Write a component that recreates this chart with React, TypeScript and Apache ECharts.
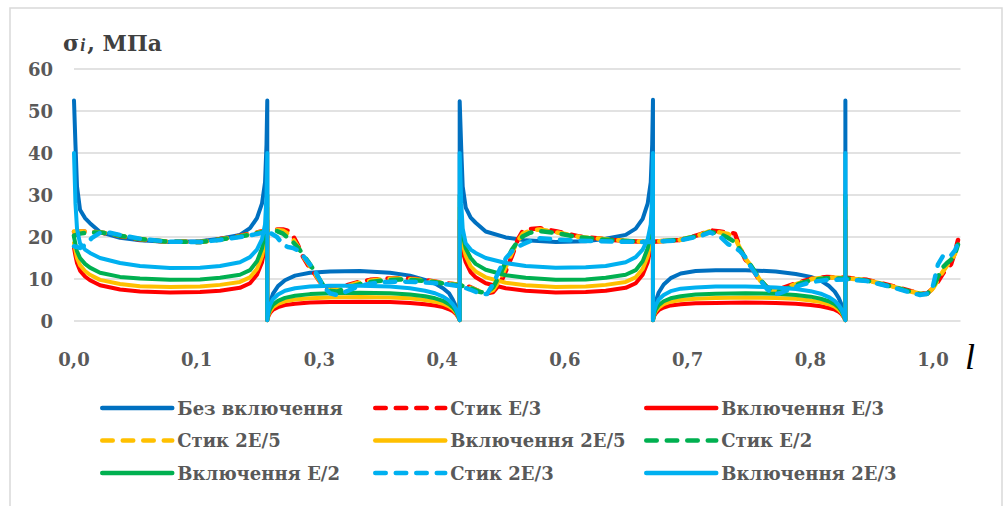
import React, { useEffect, useRef } from "react";
import * as echarts from "echarts";

// x-axis tick labels (one every 1/7 of the axis)
const TICK_LABELS = ["0,0", "0,1", "0,3", "0,4", "0,6", "0,7", "0,8", "1,0"];
const TICK_STEP = 1 / 7;
const X_MAX = 1.032;
const Y_MIN = 0;
const Y_MAX = 60;
const Y_STEP = 10;

// positions (l) of the samples of the "inclusion" curves
const SOLID_L = [
  0, 0.0017, 0.0035, 0.007, 0.0128, 0.0186, 0.0303, 0.0536, 0.0768, 0.1118, 0.1467, 0.17, 0.1932, 0.2049, 0.213, 0.2189, 0.2224, 0.2241, 0.225,
  0.225, 0.2264, 0.2282, 0.2317, 0.2375, 0.2456, 0.2573, 0.2747, 0.298, 0.3329, 0.3679, 0.3912, 0.4086, 0.4203, 0.4296, 0.4366, 0.4412, 0.4447, 0.447, 0.449,
  0.449, 0.4508, 0.4525, 0.456, 0.4618, 0.4676, 0.4793, 0.5026, 0.5258, 0.5608, 0.5957, 0.619, 0.6422, 0.6539, 0.662, 0.6679, 0.6714, 0.6731, 0.674,
  0.674, 0.6754, 0.6772, 0.6807, 0.6865, 0.6946, 0.7063, 0.7237, 0.747, 0.7819, 0.8169, 0.8402, 0.8576, 0.8693, 0.8786, 0.8856, 0.8902, 0.8937, 0.896, 0.898,
  0.898,
];

const BEZ_VKL = [
  52.5, 42, 32, 26.5, 24.5, 23.3, 21.2, 19.8, 19.2, 18.8, 19.0, 19.6, 20.5, 22.1, 24.5, 28, 33, 42, 52.5,
  0.3, 3.0, 4.5, 6.5, 8.3, 9.7, 10.8, 11.5, 11.8, 11.9, 11.5, 10.8, 9.8, 8.9, 7.8, 6.6, 5.0, 3.5, 2.0, 0.3,
  52.3, 41, 32, 27, 24.6, 23.4, 21.3, 19.9, 19.2, 18.8, 19.0, 19.6, 20.5, 22.0, 24.3, 28, 33, 42, 52.7,
  0.3, 3.0, 4.6, 6.8, 8.7, 10.2, 11.3, 11.9, 12.1, 12.1, 11.8, 11.2, 10.5, 9.6, 8.4, 7.0, 5.5, 3.8, 2.2, 0.3,
  52.5,
];
const VKL_E3 = [
  17.4, 15.5, 13.8, 12, 10.6, 9.7, 8.5, 7.5, 7, 6.8, 6.9, 7.2, 7.9, 9, 11, 14, 17.5, 21, 24,
  0.2, 1.2, 1.9, 2.7, 3.3, 3.8, 4.1, 4.4, 4.5, 4.6, 4.5, 4.3, 4.0, 3.7, 3.3, 2.8, 2.3, 1.7, 1.0, 0.2,
  24, 19.5, 16.5, 14, 11.6, 10.4, 9, 7.8, 7.2, 6.8, 6.9, 7.2, 7.9, 9, 11, 14, 17.5, 21, 24,
  0.2, 1.2, 1.8, 2.6, 3.2, 3.7, 4.0, 4.2, 4.3, 4.4, 4.3, 4.1, 3.8, 3.5, 3.1, 2.7, 2.2, 1.6, 0.9, 0.2,
  24,
];
const VKL_2E5 = [
  18.6, 16.8, 15, 13.3, 11.9, 11, 9.8, 8.8, 8.3, 8.1, 8.2, 8.6, 9.3, 10.4, 12.4, 15.4, 19, 23, 27,
  0.2, 1.5, 2.3, 3.3, 4.1, 4.7, 5.1, 5.4, 5.6, 5.7, 5.6, 5.4, 5.0, 4.6, 4.1, 3.5, 2.8, 2.0, 1.2, 0.2,
  27, 22, 18.5, 15.5, 13, 11.8, 10.4, 9.1, 8.5, 8.1, 8.2, 8.6, 9.3, 10.4, 12.4, 15.4, 19, 23, 27,
  0.2, 1.5, 2.3, 3.2, 4.0, 4.6, 5.0, 5.3, 5.5, 5.6, 5.5, 5.3, 4.9, 4.5, 4.0, 3.4, 2.7, 1.9, 1.1, 0.2,
  27,
];
const VKL_E2 = [
  20, 18.3, 16.6, 15, 13.6, 12.7, 11.5, 10.5, 10.1, 9.8, 9.9, 10.3, 11, 12.1, 14.2, 17.3, 21, 25, 30,
  0.2, 1.8, 2.8, 3.9, 4.8, 5.5, 6.0, 6.4, 6.6, 6.7, 6.6, 6.3, 5.9, 5.4, 4.8, 4.0, 3.2, 2.3, 1.3, 0.2,
  30, 24, 20.5, 17.3, 15, 13.6, 12.2, 10.9, 10.3, 9.8, 9.9, 10.3, 11, 12.1, 14.2, 17.3, 21, 25, 30,
  0.2, 1.7, 2.7, 3.8, 4.7, 5.4, 5.9, 6.3, 6.5, 6.6, 6.5, 6.2, 5.8, 5.3, 4.7, 4.0, 3.2, 2.3, 1.3, 0.2,
  30,
];
const VKL_2E3 = [
  40, 28, 22, 18.5, 17, 16.2, 15, 13.8, 13.1, 12.6, 12.7, 13.1, 14, 15.2, 17, 19.5, 23, 30, 40,
  0.2, 2.5, 3.8, 5.2, 6.3, 7.2, 7.8, 8.2, 8.4, 8.4, 8.2, 7.8, 7.2, 6.6, 5.8, 4.9, 3.9, 2.8, 1.6, 0.2,
  40, 28, 22, 18.5, 17, 16.2, 15, 13.8, 13.1, 12.7, 12.8, 13.1, 14, 15.2, 17, 19.5, 23, 30, 40,
  0.2, 2.4, 3.7, 5.1, 6.2, 7.1, 7.7, 8.0, 8.2, 8.2, 8.0, 7.6, 7.1, 6.5, 5.7, 4.8, 3.8, 2.7, 1.5, 0.2,
  40,
];

// positions (l) of the samples of the "joint" curves
const DASH_L = [
  0, 0.007, 0.014, 0.021, 0.0303, 0.0419, 0.0536, 0.0768, 0.1083, 0.1467,
  0.17, 0.1932, 0.213, 0.2258, 0.2363, 0.2433, 0.2491, 0.2549, 0.2608, 0.2666,
  0.2724, 0.2782, 0.2841, 0.2899, 0.298, 0.3062, 0.3155, 0.3295, 0.3446, 0.3621,
  0.3795, 0.397, 0.4144, 0.4319, 0.4494, 0.461, 0.4726, 0.4808, 0.4878, 0.4959,
  0.5029, 0.5099, 0.5169, 0.5227, 0.5308, 0.5425, 0.5623, 0.5891, 0.6275, 0.6671,
  0.7055, 0.7288, 0.7404, 0.7521, 0.7614, 0.7695, 0.7753, 0.7811, 0.787, 0.7928,
  0.7986, 0.8068, 0.8137, 0.8219, 0.8335, 0.8452, 0.8591, 0.8766, 0.8999, 0.9232,
  0.9534, 0.9767, 0.9849, 0.993, 1.0, 1.0058, 1.0116, 1.0163, 1.021, 1.0256, 1.0291,
];
const STYK_E3 = [
  21.2, 21.3, 21.3, 21.2, 21.1, 20.7, 20.2, 19.4, 18.9, 18.8,
  19.5, 20.3, 21.1, 21.7, 21.8, 21.8, 21.5, 20.3, 18.0, 15.3,
  13.3, 11.8, 10.0, 8.2, 7.6, 7.8, 8.4, 9.2, 9.8, 10.1,
  10.2, 10.0, 9.6, 9.0, 8.6, 8.1, 7.0, 6.6, 6.9, 8.8,
  12.0, 15.5, 19.5, 21.5, 21.9, 22.1, 21.3, 20.1, 19.3, 18.8,
  19.3, 20.6, 21.6, 21.3, 21.1, 20.8, 17.5, 14.8, 13.2, 11.4,
  9.5, 8.1, 7.4, 7.6, 8.5, 9.3, 10.1, 10.5, 10.3, 9.8,
  8.3, 7.0, 6.6, 6.5, 7.8, 9.4, 11.3, 12.5, 13.5, 16.4, 19.3,
];
const STYK_2E5 = [
  21.3, 21.3, 21.3, 21.2, 21.1, 20.8, 20.3, 19.5, 18.9, 18.8,
  19.4, 20.2, 21.0, 21.5, 21.7, 21.5, 20.8, 19.5, 17.6, 15.5,
  13.8, 12.0, 10.2, 8.4, 7.4, 7.5, 8.1, 9.0, 9.6, 10.0,
  10.1, 9.9, 9.5, 9.0, 8.6, 8.0, 7.0, 6.7, 7.4, 9.8,
  13.0, 16.3, 19.2, 20.8, 21.5, 21.8, 21.1, 20.0, 19.3, 18.8,
  19.3, 20.5, 21.4, 21.1, 20.7, 19.8, 17.3, 15.0, 13.4, 11.6,
  9.7, 8.1, 7.2, 7.4, 8.3, 9.1, 10.0, 10.4, 10.2, 9.7,
  8.2, 6.9, 6.5, 6.4, 7.8, 9.8, 11.8, 13.2, 14.2, 16.0, 18.8,
];
const STYK_E2 = [
  20.3, 20.8, 21.0, 21.1, 21.1, 20.8, 20.3, 19.5, 18.9, 18.8,
  19.4, 20.1, 20.9, 21.4, 21.4, 20.8, 19.8, 18.8, 17.5, 15.8,
  14.2, 12.4, 10.5, 8.6, 7.2, 7.0, 7.7, 8.6, 9.3, 9.7,
  9.9, 9.7, 9.4, 8.9, 8.5, 7.9, 6.9, 6.8, 8.0, 11.0,
  14.2, 17.0, 19.0, 20.2, 21.0, 21.4, 20.9, 19.9, 19.2, 18.8,
  19.3, 20.4, 21.2, 20.7, 19.8, 18.8, 17.0, 15.2, 13.5, 11.7,
  9.9, 8.0, 7.0, 7.1, 8.0, 8.9, 9.8, 10.2, 10.1, 9.6,
  8.1, 6.8, 6.4, 6.4, 8.0, 10.5, 12.8, 13.8, 14.6, 16.0, 18.2,
];
const STYK_2E3 = [
  17.8, 17.4, 18.2, 19.8, 21.0, 21.0, 20.5, 19.6, 18.9, 18.8,
  19.3, 20.0, 20.7, 21.3, 20.0, 18.2, 17.6, 17.4, 16.8, 15.6,
  14.0, 12.6, 10.6, 8.3, 6.6, 6.2, 6.9, 8.1, 8.9, 9.3,
  9.4, 9.3, 9.1, 8.8, 8.3, 7.5, 6.5, 6.4, 8.8, 12.4,
  15.0, 16.6, 17.7, 18.3, 19.0, 19.7, 19.4, 19.1, 18.9, 18.8,
  19.2, 20.2, 21.1, 20.1, 18.3, 17.5, 16.6, 15.3, 13.2, 11.4,
  9.8, 7.6, 6.3, 6.6, 7.6, 8.5, 9.3, 9.8, 9.9, 9.5,
  8.0, 6.6, 6.2, 6.5, 8.4, 13.5, 15.5, 15.2, 15.6, 16.8, 18.5,
];

const SERIES_DEF = [
  { name: "Без включення", xs: SOLID_L, ys: BEZ_VKL, color: "#0070C0", dashed: false },
  { name: "Стик E/3", xs: DASH_L, ys: STYK_E3, color: "#FF0000", dashed: true },
  { name: "Включення E/3", xs: SOLID_L, ys: VKL_E3, color: "#FF0000", dashed: false },
  { name: "Стик 2E/5", xs: DASH_L, ys: STYK_2E5, color: "#FFC000", dashed: true },
  { name: "Включення 2E/5", xs: SOLID_L, ys: VKL_2E5, color: "#FFC000", dashed: false },
  { name: "Стик E/2", xs: DASH_L, ys: STYK_E2, color: "#00B050", dashed: true },
  { name: "Включення E/2", xs: SOLID_L, ys: VKL_E2, color: "#00B050", dashed: false },
  { name: "Стик 2E/3", xs: DASH_L, ys: STYK_2E3, color: "#00B0F0", dashed: true },
  { name: "Включення 2E/3", xs: SOLID_L, ys: VKL_2E3, color: "#00B0F0", dashed: false },
];

const LEGEND_COLUMNS = [
  ["Без включення", "Стик 2E/5", "Включення E/2"],
  ["Стик E/3", "Включення 2E/5", "Стик 2E/3"],
  ["Включення E/3", "Стик E/2", "Включення 2E/3"],
];
const LEGEND_LEFTS = [100, 373, 644];

const FONT = "DejaVu Serif";
const LABEL_COLOR = "#595959";
const DASH = [10.5, 10];

export default function App() {
  const ref = useRef<HTMLDivElement>(null);

  useEffect(() => {
    if (!ref.current) return;
    const chart = echarts.init(ref.current, undefined, { renderer: "svg" });

    const series = SERIES_DEF.map((s) => ({
      name: s.name,
      type: "line",
      data: s.xs.map((x, i) => [x, s.ys[i]]),
      symbol: "none",
      showSymbol: false,
      color: s.color,
      lineStyle: {
        color: s.color,
        width: s.dashed ? 4.5 : 4,
        type: s.dashed ? DASH : "solid",
        cap: "round",
        join: "round",
      },
      emphasis: { disabled: true },
    }));

    const legends = LEGEND_COLUMNS.map((col, i) => ({
      data: col,
      orient: "vertical",
      left: LEGEND_LEFTS[i],
      top: 398,
      padding: 0,
      itemWidth: 70,
      itemHeight: 14,
      itemGap: 12.5,
      selectedMode: false,
      itemStyle: { opacity: 0 },
      lineStyle: { width: 4.5, cap: "round" },
      textStyle: {
        fontFamily: FONT,
        fontWeight: "bold",
        fontSize: 18,
        color: LABEL_COLOR,
        lineHeight: 20,
      },
    }));

    chart.setOption({
      animation: false,
      backgroundColor: "#ffffff",
      grid: { left: 74, right: 1006 - (74 + 859 * X_MAX), top: 69, bottom: 185, containLabel: false },
      xAxis: {
        type: "value",
        min: 0,
        max: X_MAX,
        interval: TICK_STEP,
        axisLine: { show: false },
        axisTick: { show: false },
        splitLine: { show: false },
        axisLabel: {
          margin: 29,
          fontFamily: FONT,
          fontWeight: "bold",
          fontSize: 18,
          color: LABEL_COLOR,
          formatter: (v: number) => {
            const k = Math.round(v / TICK_STEP);
            if (Math.abs(v / TICK_STEP - k) > 1e-3) return "";
            return TICK_LABELS[k] ?? "";
          },
        },
      },
      yAxis: {
        type: "value",
        min: Y_MIN,
        max: Y_MAX,
        interval: Y_STEP,
        axisLine: { show: false },
        axisTick: { show: false },
        splitLine: { lineStyle: { color: "#D9D9D9", width: 1.5 } },
        axisLabel: {
          margin: 21,
          fontFamily: FONT,
          fontWeight: "bold",
          fontSize: 18,
          color: LABEL_COLOR,
        },
      },
      legend: legends,
      graphic: [
        {
          type: "rect",
          silent: true,
          shape: { x: 10, y: 8, width: 992, height: 520 },
          style: { fill: "none", stroke: "#D9D9D9", lineWidth: 1.5 },
        },
        {
          type: "text",
          silent: true,
          x: 63,
          y: 41,
          style: {
            text: "{a|σ}{b|i}{a|, МПа}",
            verticalAlign: "middle",
            rich: {
              a: { fontFamily: FONT, fontWeight: "bold", fontSize: 22, fill: "#404040", lineHeight: 26, verticalAlign: "bottom" },
              b: { fontFamily: "Liberation Serif", fontWeight: "bold", fontStyle: "italic", fontSize: 18, fill: "#404040", lineHeight: 22, verticalAlign: "bottom", padding: [0, 2, 0, 1] },
            },
          },
        },
        {
          type: "text",
          silent: true,
          x: 965,
          y: 357,
          style: {
            text: "l",
            fontFamily: "Liberation Serif",
            fontStyle: "italic",
            fontSize: 36,
            fill: "#000000",
            verticalAlign: "middle",
          },
        },
      ],
      series,
    });

    return () => chart.dispose();
  }, []);

  return (
    <div
      ref={ref}
      style={{ position: "fixed", left: 0, top: 0, width: 1006, height: 506, background: "#fff" }}
    />
  );
}
